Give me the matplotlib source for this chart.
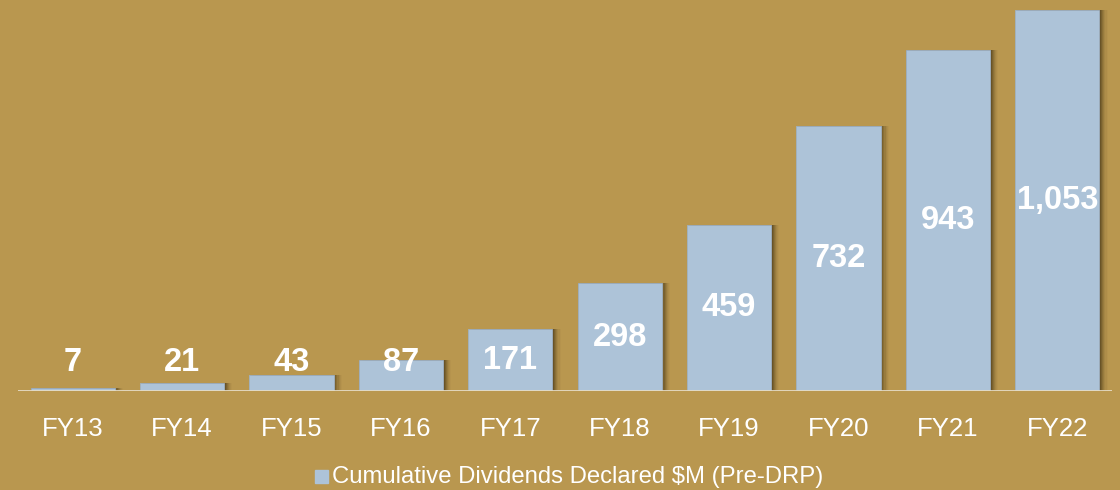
import numpy as np
import matplotlib.pyplot as plt

years = ['FY13', 'FY14', 'FY15', 'FY16', 'FY17', 'FY18', 'FY19', 'FY20', 'FY21', 'FY22']
dividends = [7, 21, 43, 87, 171, 298, 459, 732, 943, 1053]
labels = ['7', '21', '43', '87', '171', '298', '459', '732', '943', '1,053']

bg = '#B9974F'
bar_col = '#ADC3D8'

plt.rcParams['font.family'] = ['Liberation Sans', 'DejaVu Sans']

fig = plt.figure(figsize=(11.2, 4.9), dpi=100, facecolor=bg)
ax = fig.add_axes([18 / 1120, 1 - 391 / 490, 1094 / 1120, 391 / 490])
ax.set_facecolor(bg)

x = np.arange(len(years))
w = 0.77

# soft shadow on right side of bars
for i, a in enumerate([0.30, 0.24, 0.19, 0.15, 0.11, 0.08, 0.05, 0.03]):
    off = 0.005 + i * 0.010
    ax.bar(x + off, dividends, width=w, color='#3a2c10', alpha=a, zorder=1)

ax.bar(x, dividends, width=w, color=bar_col, edgecolor='#a0b2c4', linewidth=0.6, zorder=2)

for xi, v, lab in zip(x, dividends, labels):
    ax.text(xi, max(v / 2, 78), lab, ha='center', va='center', color='white',
            fontsize=23.5, fontweight='bold', zorder=3)

ax.set_xlim(-0.5, 9.5)
ax.set_ylim(0, 1081)
ax.axhline(0, color='#E6DCC6', lw=2, zorder=4)

ax.set_xticks(x)
ax.set_xticklabels(years, color='white', fontsize=18.5)
ax.tick_params(axis='x', length=0, pad=19)
ax.set_yticks([])
for s in ax.spines.values():
    s.set_visible(False)

fig.patches.append(plt.Rectangle((315 / 1120, 1 - 483 / 490), 13 / 1120, 13 / 490,
                                 transform=fig.transFigure, color=bar_col, figure=fig))
fig.text(332 / 1120, 1 - 477 / 490, 'Cumulative Dividends Declared $M (Pre-DRP)',
         color='white', fontsize=17.2, va='center', ha='left')

fig.savefig('out.png', dpi=100, facecolor=bg)
